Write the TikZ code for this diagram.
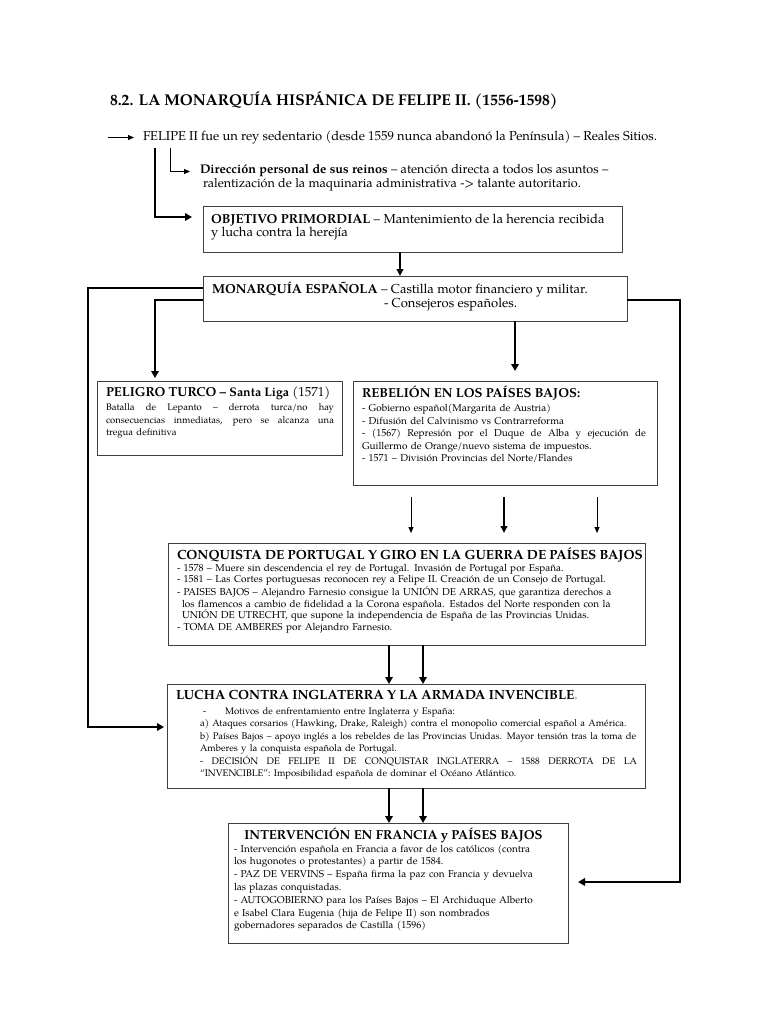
\documentclass[tikz,border=0pt]{standalone}
\usepackage{fontspec}
\setmainfont{TeX Gyre Pagella}
\usetikzlibrary{arrows.meta,calc}
\newcommand\bodyf[2]{\fontsize{#1}{#2}\selectfont}
\newcommand\ttlf{\fontsize{13}{15}\selectfont\bfseries}
\newcommand\jl[2]{\makebox[#1][s]{\spaceskip=0.25em plus 3em\relax #2}}
\begin{document}
\begin{tikzpicture}[x=1pt,y=-1pt,
  box/.style={draw=black!75,line width=0.9pt,rectangle,anchor=north west,inner sep=0pt,outer sep=0pt},
  txt/.style={anchor=base west,inner sep=0pt,outer sep=0pt,align=left},
  thk/.style={line width=2.6pt,-{Triangle[length=7pt,width=7.5pt]}},
  med/.style={line width=1.8pt,-{Triangle[length=7pt,width=6.5pt]}},
  thn/.style={line width=0.9pt,-{Triangle[length=6pt,width=5pt]}}]
\fill[white] (0,0) rectangle (768,1024);
\useasboundingbox (0,0) rectangle (768,1024);

% header texts
\node[txt] (title) at (110,106) {\fontsize{15.6}{19}\selectfont\bfseries 8.2. LA MONARQUÍA HISPÁNICA DE FELIPE II. (1556-1598)};
\node[txt] (felipe) at (143,140.5) {\fontsize{12.9}{14}\selectfont FELIPE II fue un rey sedentario (desde 1559 nunca abandonó la Península) – Reales Sitios.};
\node[txt,text width=440pt] (dir) at (200,174) {\fontsize{12.6}{15.5}\selectfont\textbf{Dirección personal de sus reinos} – atención directa a todos los asuntos –\\\hspace*{3pt}ralentización de la maquinaria administrativa -> talante autoritario.};

% boxes
\node[box,minimum width=419pt,minimum height=46pt] (obj) at (203,206) {};
\node[txt,text width=410pt] (objT) at (211,223.5) {\fontsize{13}{17}\selectfont\textbf{OBJETIVO PRIMORDIAL} – Mantenimiento de la herencia recibida\\y lucha contra la herejía};

\node[box,minimum width=424pt,minimum height=45pt] (mon) at (203,276) {};
\node[txt,text width=415pt] (monT) at (212,293) {\fontsize{13}{17}\selectfont\textbf{MONARQUÍA ESPAÑOLA} – Castilla motor financiero y militar.\\\hspace*{172pt}- Consejeros españoles.};

\node[box,minimum width=245pt,minimum height=74pt] (pel) at (97,381) {};
\node[txt] (pelH) at (106,396) {\fontsize{13}{15}\selectfont\textbf{PELIGRO TURCO – }{\fontsize{12.4}{15}\selectfont\bfseries Santa Liga} (1571)};
\node[txt,text width=232pt] (pelB) at (106,410) {\bodyf{9.5}{13}\jl{228pt}{Batalla de Lepanto – derrota turca/no hay}\\\jl{228pt}{consecuencias inmediatas, pero se alcanza una}\\tregua definitiva};

\node[box,minimum width=304pt,minimum height=104pt] (reb) at (353,381) {};
\node[txt] (rebH) at (362,397.5) {\ttlf REBELIÓN EN LOS PAÍSES BAJOS:};
\node[txt,text width=292pt] (rebB) at (362,411.5) {\bodyf{10}{12.6}- Gobierno español(Margarita de Austria)\\- Difusión del Calvinismo vs Contrarreforma\\\jl{284pt}{- (1567) Represión por el Duque de Alba y ejecución de}\\Guillermo de Orange/nuevo sistema de impuestos.\\- 1571 – División Provincias del Norte/Flandes};

\node[box,minimum width=477pt,minimum height=102pt] (con) at (168,543) {};
\node[txt] (conH) at (177,559.5) {\fontsize{13.3}{15}\selectfont\bfseries CONQUISTA DE PORTUGAL Y GIRO EN LA GUERRA DE PAÍSES BAJOS};
\node[txt,text width=465pt] (conB) at (177,571) {\bodyf{10}{11.7}- 1578 – Muere sin descendencia el rey de Portugal. Invasión de Portugal por España.\\- 1581 – Las Cortes portuguesas reconocen rey a Felipe II. Creación de un Consejo de Portugal.\\- PAISES BAJOS – Alejandro Farnesio consigue la UNIÓN DE ARRAS, que garantiza derechos a\\\hspace*{5pt}los flamencos a cambio de fidelidad a la Corona española. Estados del Norte responden con la\\\hspace*{5pt}UNIÓN DE UTRECHT, que supone la independencia de España de las Provincias Unidas.\\- TOMA DE AMBERES por Alejandro Farnesio.};

\node[box,minimum width=478pt,minimum height=104pt] (luc) at (167,684) {};
\node[txt] (lucH) at (176,699.5) {\fontsize{13.3}{15}\selectfont\bfseries LUCHA CONTRA INGLATERRA Y LA ARMADA INVENCIBLE{\color{black!35}.}};
\node[txt,text width=442pt] (lucB) at (200,714) {\bodyf{9.5}{12.6}\hspace*{3pt}-\hspace*{19pt}Motivos de enfrentamiento entre Inglaterra y España:\\a) Ataques corsarios (Hawking, Drake, Raleigh) contra el monopolio comercial español a América.\\b) Países Bajos – apoyo inglés a los rebeldes de las Provincias Unidas. Mayor tensión tras la toma de\\Amberes y la conquista española de Portugal.\\\jl{437pt}{- DECISIÓN DE FELIPE II DE CONQUISTAR INGLATERRA – 1588 DERROTA DE LA}\\“INVENCIBLE”: Imposibilidad española de dominar el Océano Atlántico.};

\node[box,minimum width=340pt,minimum height=120pt] (int) at (228,823) {};
\node[anchor=base,inner sep=0pt] (intH) at (393.5,839) {\ttlf INTERVENCIÓN EN FRANCIA y PAÍSES BAJOS};
\node[txt,text width=332pt] (intB) at (234,852) {\bodyf{10}{12.8}- Intervención española en Francia a favor de los católicos (contra\\los hugonotes o protestantes) a partir de 1584.\\- PAZ DE VERVINS – España firma la paz con Francia y devuelva\\las plazas conquistadas.\\- AUTOGOBIERNO para los Países Bajos – El Archiduque Alberto\\e Isabel Clara Eugenia (hija de Felipe II) son nombrados\\gobernadores separados de Castilla (1596)};

% connectors
\draw[thn] ($(felipe.west)+(-35,0)$) -- ($(felipe.west)+(-9,0)$);
\coordinate (s1) at (170,148);
\draw[thn] (s1) |- ($(dir.base west)+(-10,-2.5)$);
\coordinate (s2) at (155,148);
\draw[thk] (s2) |- ($(obj.north west)+(-11,11)$);
\draw[med] ($(obj.south west)+(197,0)$) -- ($(mon.north west)+(197,0)$);
\draw[thk] ($(mon.north west)+(0,12)$) -- (88,288) |- ($(luc.north west)+(-3,43)$);
\draw[thk] ($(mon.north west)+(0,24)$) -| ($(pel.north west)+(58,-3)$);
\draw[thk] ($(mon.north east)+(0,24)$) -- (680,300) |- ($(int.north east)+(10,59)$);
\draw[thk] ($(mon.south west)+(312,0)$) -- ($(reb.north west)+(162,-10)$);
\draw[thn] ($(reb.south west)+(58,12)$) -- ($(con.north west)+(243,-10)$);
\draw[med] ($(reb.south west)+(151,12)$) -- ($(con.north west)+(336,-10)$);
\draw[thn] ($(reb.south west)+(244,12)$) -- ($(con.north west)+(429,-10)$);
\draw[thk] ($(con.south west)+(221,0)$) -- ($(luc.north west)+(222,0)$);
\draw[thk] ($(con.south west)+(255,0)$) -- ($(luc.north west)+(256,0)$);
\draw[thk] ($(luc.south west)+(222,0)$) -- ($(int.north west)+(161,0)$);
\draw[thk] ($(luc.south west)+(256,0)$) -- ($(int.north west)+(195,0)$);
\end{tikzpicture}
\end{document}
